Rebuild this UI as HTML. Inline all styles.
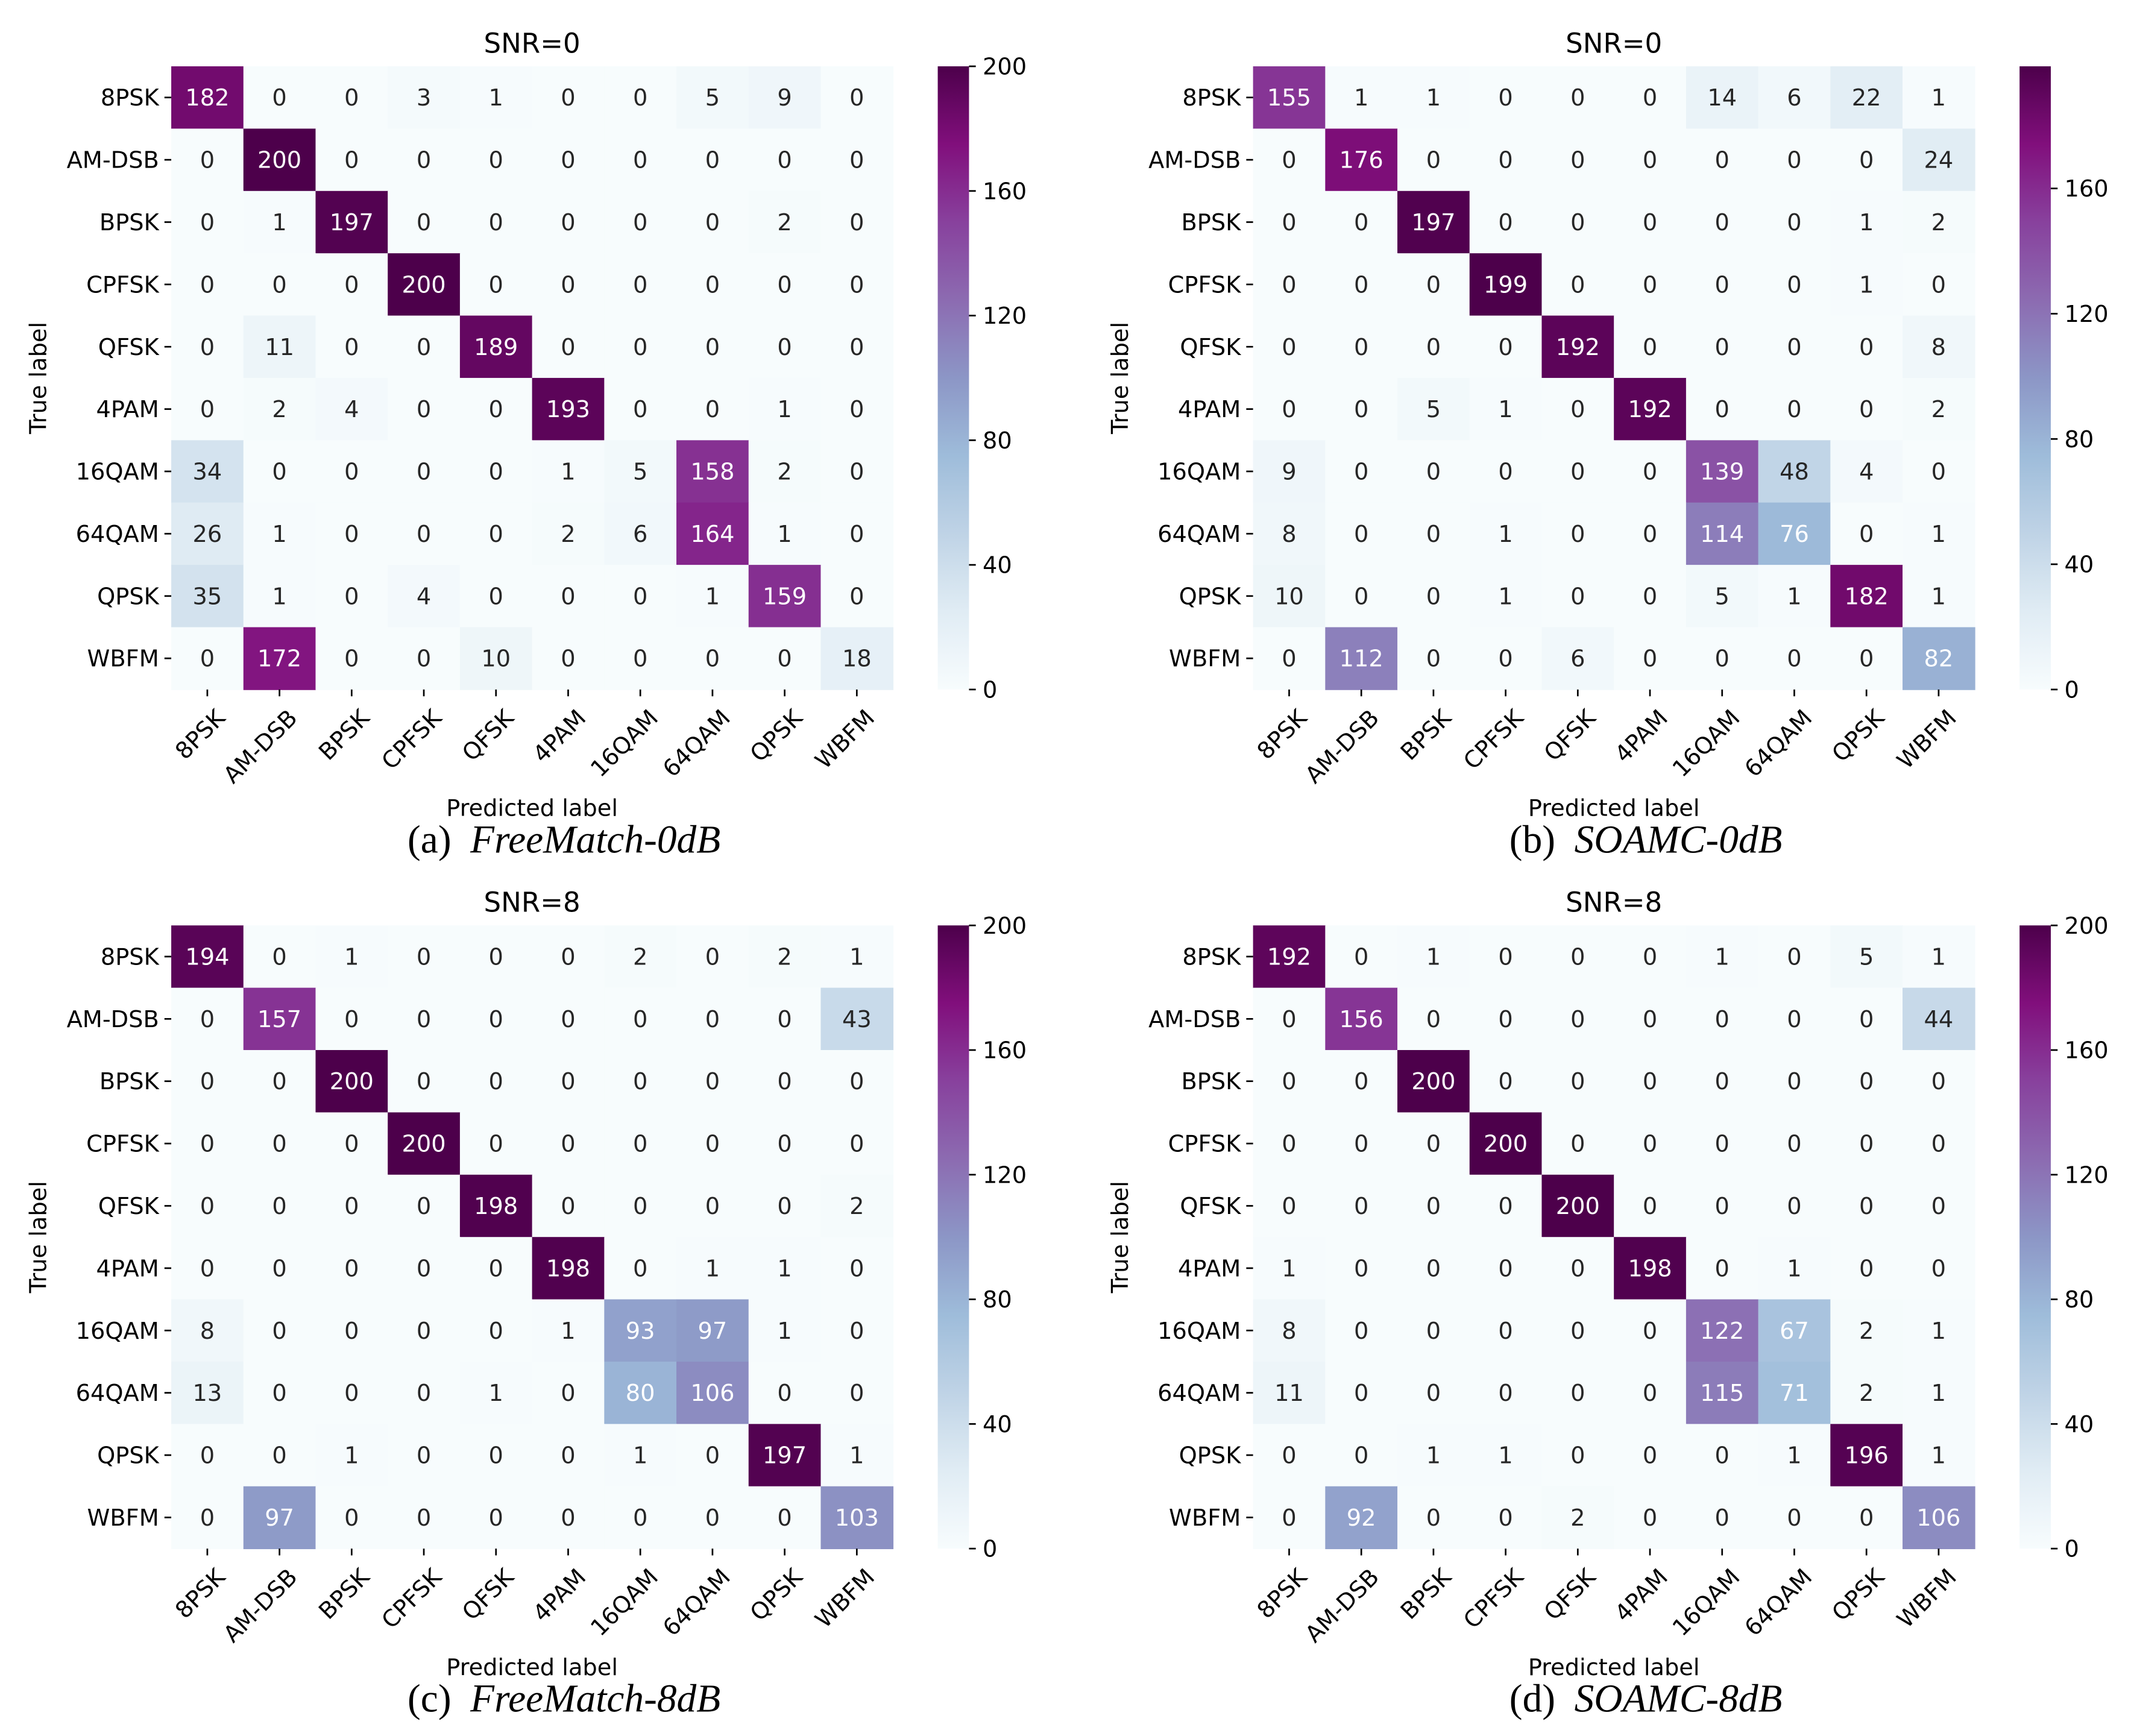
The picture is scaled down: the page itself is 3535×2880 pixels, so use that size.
<!DOCTYPE html>
<html><head><meta charset="utf-8"><style>
html,body{margin:0;padding:0;background:#fff;}
svg{display:block;}
text{font-family:"DejaVu Sans","Liberation Sans",sans-serif;}
.cap{font-family:"Liberation Serif",serif;}
</style></head><body>
<svg id="fig" xmlns="http://www.w3.org/2000/svg" width="3535" height="2880" viewBox="0 0 1568 1277.5" preserveAspectRatio="none"></svg>
<script>
const classes = ["8PSK","AM-DSB","BPSK","CPFSK","QFSK","4PAM","16QAM","64QAM","QPSK","WBFM"];
const cmA = [
[182,0,0,3,1,0,0,5,9,0],
[0,200,0,0,0,0,0,0,0,0],
[0,1,197,0,0,0,0,0,2,0],
[0,0,0,200,0,0,0,0,0,0],
[0,11,0,0,189,0,0,0,0,0],
[0,2,4,0,0,193,0,0,1,0],
[34,0,0,0,0,1,5,158,2,0],
[26,1,0,0,0,2,6,164,1,0],
[35,1,0,4,0,0,0,1,159,0],
[0,172,0,0,10,0,0,0,0,18]];
const cmB = [
[155,1,1,0,0,0,14,6,22,1],
[0,176,0,0,0,0,0,0,0,24],
[0,0,197,0,0,0,0,0,1,2],
[0,0,0,199,0,0,0,0,1,0],
[0,0,0,0,192,0,0,0,0,8],
[0,0,5,1,0,192,0,0,0,2],
[9,0,0,0,0,0,139,48,4,0],
[8,0,0,1,0,0,114,76,0,1],
[10,0,0,1,0,0,5,1,182,1],
[0,112,0,0,6,0,0,0,0,82]];
const cmC = [
[194,0,1,0,0,0,2,0,2,1],
[0,157,0,0,0,0,0,0,0,43],
[0,0,200,0,0,0,0,0,0,0],
[0,0,0,200,0,0,0,0,0,0],
[0,0,0,0,198,0,0,0,0,2],
[0,0,0,0,0,198,0,1,1,0],
[8,0,0,0,0,1,93,97,1,0],
[13,0,0,0,1,0,80,106,0,0],
[0,0,1,0,0,0,1,0,197,1],
[0,97,0,0,0,0,0,0,0,103]];
const cmD = [
[192,0,1,0,0,0,1,0,5,1],
[0,156,0,0,0,0,0,0,0,44],
[0,0,200,0,0,0,0,0,0,0],
[0,0,0,200,0,0,0,0,0,0],
[0,0,0,0,200,0,0,0,0,0],
[1,0,0,0,0,198,0,1,0,0],
[8,0,0,0,0,0,122,67,2,1],
[11,0,0,0,0,0,115,71,2,1],
[0,0,1,1,0,0,0,1,196,1],
[0,92,0,0,2,0,0,0,0,106]];
const cbTicks = [0,40,80,120,160,200];
const titles = ["SNR=0","SNR=0","SNR=8","SNR=8"];
const capLetters = ["(a)","(b)","(c)","(d)"];
const capNames = ["FreeMatch-0dB","SOAMC-0dB","FreeMatch-8dB","SOAMC-8dB"];

const stops=["#f7fcfd","#e0ecf4","#bfd3e6","#9ebcda","#8c96c6","#8c6bb1","#88419d","#810f7c","#4d004b"];
function hex(h){return [1,3,5].map(i=>parseInt(h.substr(i,2),16));}
function cmap(t){t=Math.max(0,Math.min(1,t));const p=t*(stops.length-1);const i=Math.min(Math.floor(p),stops.length-2);const f=p-i;const a=hex(stops[i]),b=hex(stops[i+1]);return "rgb("+a.map((v,k)=>Math.round(v+(b[k]-v)*f)).join(",")+")";}
const NS="http://www.w3.org/2000/svg";
const svg=document.getElementById("fig");
function el(tag,attrs,parent,txt){const e=document.createElementNS(NS,tag);for(const k in attrs)e.setAttribute(k,attrs[k]);if(txt!==undefined)e.textContent=txt;(parent||svg).appendChild(e);return e;}

const panels=[
 {cm:cmA,x0:126,y0:48.8},
 {cm:cmB,x0:922,y0:48.8},
 {cm:cmC,x0:126,y0:681},
 {cm:cmD,x0:922,y0:681}];
const W=531,H=458.6,n=classes.length,cw=W/n,ch=H/n;

panels.forEach((p,pi)=>{
  const g=el("g",{},svg);
  
  
  let vmax=0;p.cm.forEach(r=>r.forEach(v=>{if(v>vmax)vmax=v;}));
  const sx=j=>p.x0+j*cw, sy=i=>p.y0+i*ch;
  p.cm.forEach((row,i)=>row.forEach((v,j)=>{
    const r=el("rect",{x:sx(j),y:sy(i),width:cw+0.4,height:ch+0.4,fill:cmap(v/vmax)},g);
    
    
    const t=el("text",{x:sx(j)+cw/2,y:sy(i)+ch/2+6,"text-anchor":"middle","font-size":17,fill:(v/vmax>0.3?"#fff":"#262626")},g,String(v));
    
    
  }));
  classes.forEach((c,i)=>{
    el("line",{x1:p.x0-5,x2:p.x0,y1:sy(i)+ch/2,y2:sy(i)+ch/2,stroke:"#000","stroke-width":1.2},g);
    const t=el("text",{x:p.x0-9,y:sy(i)+ch/2+6,"text-anchor":"end","font-size":17},g,c);
    
    
    const xc=sx(i)+cw/2,yb=p.y0+H;
    el("line",{x1:xc,x2:xc,y1:yb,y2:yb+5,stroke:"#000","stroke-width":1.2},g);
    const t2=el("text",{transform:"translate("+(xc+14)+","+(yb+22)+") rotate(-45)","text-anchor":"end","font-size":17},g,c);
    
    
  });
  const tt=el("text",{x:p.x0+W/2,y:p.y0-10,"text-anchor":"middle","font-size":20},g,titles[pi]);
  
  
  const yl=el("text",{transform:"translate("+(p.x0-92)+","+(p.y0+H/2)+") rotate(-90)","text-anchor":"middle","font-size":17},g,"True label");
  
  
  const xl=el("text",{x:p.x0+W/2,y:p.y0+H+93,"text-anchor":"middle","font-size":17},g,"Predicted label");
  
  
  const cap=el("text",{x:p.x0+289,y:p.y0+H+120,"font-size":29,"text-anchor":"middle",class:"cap"},g);
  
  
  el("tspan",{},cap,capLetters[pi]);
  el("tspan",{"font-style":"italic",dx:14},cap,capNames[pi]);
  // colorbar
  const cbx=p.x0+564,cbw=23;
  const gid="grad"+pi;
  const defs=el("defs",{},g);
  const lg=el("linearGradient",{id:gid,x1:0,y1:1,x2:0,y2:0},defs);
  for(let k=0;k<=16;k++){el("stop",{offset:k/16,"stop-color":cmap(k/16)},lg);}
  const cb=el("rect",{x:cbx,y:p.y0,width:cbw,height:H,fill:"url(#"+gid+")"},g);
  
  
  cbTicks.forEach(v=>{
    if(v>vmax)return;
    const y=p.y0+H-v/vmax*H;
    el("line",{x1:cbx+cbw,x2:cbx+cbw+5,y1:y,y2:y,stroke:"#000","stroke-width":1.2},g);
    const t=el("text",{x:cbx+cbw+10,y:y+6,"font-size":17},g,String(v));
    
    
  });
});
</script>
</body></html>
